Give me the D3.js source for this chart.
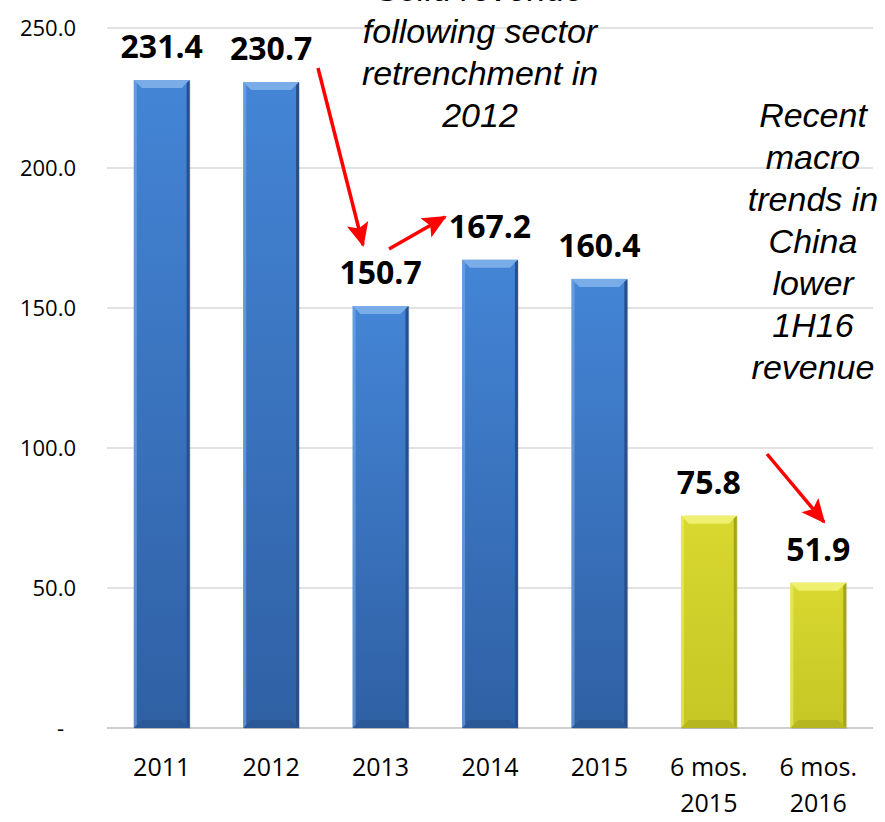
<!DOCTYPE html>
<html>
<head>
<meta charset="UTF-8">
<title>Revenue chart</title>
<script src="https://cdn.jsdelivr.net/npm/d3@7"></script>
<style>
  body { margin: 0; background: #fff; }
  svg { display: block; }
</style>
</head>
<body>
<svg id="chart"></svg>
<script>
// chart data
const categories = ["2011", "2012", "2013", "2014", "2015", "6 mos. 2015", "6 mos. 2016"];
const values = [231.4, 230.7, 150.7, 167.2, 160.4, 75.8, 51.9];
const isHalfYear = [false, false, false, false, false, true, true];
const yTicks = [0, 50, 100, 150, 200, 250];
const noteLeft = ["Solid revenue", "following sector", "retrenchment in", "2012"];
const noteRight = ["Recent", "macro", "trends in", "China", "lower", "1H16", "revenue"];

const width = 885, height = 822;
const svg = d3.select("#chart").attr("width", width).attr("height", height);

const x = d3.scaleBand().domain(categories).range([107, 873])
    .paddingInner(0.49).paddingOuter(0.245);
const y = d3.scaleLinear().domain([0, 250]).range([728, 28]);

// gradients for the bevelled bars
const defs = svg.append("defs");
const palettes = {
  blue:   {top: "#4485d6", bottom: "#2f60a4", light: "#7aace8", dark: "#284f8a"},
  yellow: {top: "#d8d830", bottom: "#c6c625", light: "#efef70", dark: "#a5a51c"}
};
Object.entries(palettes).forEach(([k, p]) => {
  const g = defs.append("linearGradient").attr("id", "body-" + k)
      .attr("x1", 0).attr("y1", 0).attr("x2", 0).attr("y2", 1);
  g.append("stop").attr("offset", "0%").attr("stop-color", p.top);
  g.append("stop").attr("offset", "100%").attr("stop-color", p.bottom);
});

// gridlines
svg.append("g")
  .selectAll("line")
  .data(yTicks)
  .join("line")
    .attr("x1", 107).attr("x2", 873)
    .attr("y1", d => y(d)).attr("y2", d => y(d))
    .attr("stroke", d => d === 0 ? "#cfcfcf" : "#d9d9d9")
    .attr("stroke-width", d => d === 0 ? 2 : 1.5);

// y axis labels
const yAxis = svg.append("g")
  .attr("transform", "translate(76,0)")
  .call(d3.axisLeft(y).tickValues(yTicks).tickSize(0).tickPadding(0)
        .tickFormat(d => d === 0 ? "-" : d3.format(".1f")(d)));
yAxis.select(".domain").remove();
yAxis.selectAll("text")
  .attr("font-family", "Open Sans, sans-serif")
  .attr("font-size", 22)
  .attr("fill", "#000")
  .attr("dy", "0.35em")
  .attr("x", d => d === 0 ? -12 : 0);

// bars
const bar = svg.append("g")
  .selectAll("g")
  .data(categories.map((c, i) => ({c, v: values[i], half: isHalfYear[i]})))
  .join("g")
    .attr("transform", d => `translate(${x(d.c)},${y(d.v)})`);

const bw = x.bandwidth();
const bev = 8;

bar.append("rect")
  .attr("x", 1).attr("y", 1)
  .attr("width", bw).attr("height", d => y(0) - y(d.v))
  .attr("fill", "#000").attr("opacity", 0.12);

bar.append("rect")
  .attr("width", bw).attr("height", d => y(0) - y(d.v))
  .attr("fill", d => `url(#body-${d.half ? "yellow" : "blue"})`);

// top bevel
bar.append("polygon")
  .attr("points", `0,0 ${bw},0 ${bw - bev},${bev} ${bev},${bev}`)
  .attr("fill", d => palettes[d.half ? "yellow" : "blue"].light);
// left bevel
bar.append("polygon")
  .attr("points", d => { const h = y(0) - y(d.v); return `0,0 3,3 3,${h - 3} 0,${h}`; })
  .attr("fill", d => palettes[d.half ? "yellow" : "blue"].light).attr("opacity", 0.6);
// right bevel
bar.append("polygon")
  .attr("points", d => { const h = y(0) - y(d.v); return `${bw},0 ${bw - 3},3 ${bw - 3},${h - 3} ${bw},${h}`; })
  .attr("fill", d => palettes[d.half ? "yellow" : "blue"].dark);
// bottom bevel
bar.append("polygon")
  .attr("points", d => { const h = y(0) - y(d.v); return `0,${h} ${bev},${h - bev} ${bw - bev},${h - bev} ${bw},${h}`; })
  .attr("fill", d => palettes[d.half ? "yellow" : "blue"].dark).attr("opacity", 0.5);

// value labels
bar.append("text")
  .attr("x", bw / 2).attr("y", -22)
  .attr("text-anchor", "middle")
  .attr("font-family", "Open Sans, sans-serif")
  .attr("font-weight", "bold")
  .attr("font-size", 32)
  .attr("fill", "#000")
  .text(d => d3.format(".1f")(d.v));

// category labels
const xl = svg.append("g")
  .selectAll("text")
  .data(categories)
  .join("text")
    .attr("x", d => x(d) + bw / 2)
    .attr("y", 776)
    .attr("text-anchor", "middle")
    .attr("font-family", "Open Sans, sans-serif")
    .attr("font-size", 25)
    .attr("fill", "#000");
xl.each(function(d) {
  const parts = d.startsWith("6 mos.") ? ["6 mos.", d.slice(7)] : [d];
  d3.select(this).selectAll("tspan").data(parts).join("tspan")
    .attr("x", x(d) + bw / 2)
    .attr("dy", (p, i) => i === 0 ? 0 : 36)
    .text(p => p);
});

// annotations
function note(lines, cx, y0) {
  svg.append("text")
    .attr("text-anchor", "middle")
    .attr("font-family", "Liberation Sans, Arial, sans-serif")
    .attr("font-style", "italic")
    .attr("font-size", 34)
    .attr("fill", "#000")
    .selectAll("tspan").data(lines).join("tspan")
      .attr("x", cx).attr("y", (l, i) => y0 + i * 42)
      .text(l => l);
}
note(noteLeft, 480, 1);
note(noteRight, 813, 127);

// red arrows
defs.append("marker")
  .attr("id", "head")
  .attr("markerUnits", "userSpaceOnUse")
  .attr("viewBox", "0 0 24 24")
  .attr("refX", 22).attr("refY", 12)
  .attr("markerWidth", 24).attr("markerHeight", 24)
  .attr("orient", "auto")
  .append("path")
    .attr("d", "M0,1 L24,12 L0,23 L5,12 Z")
    .attr("fill", "#ff0000");

const arrows = [
  [318, 68, 363, 245],
  [389, 249, 445, 217],
  [767, 454, 824, 522]
];
svg.append("g")
  .selectAll("line")
  .data(arrows)
  .join("line")
    .attr("x1", d => d[0]).attr("y1", d => d[1])
    .attr("x2", d => d[2]).attr("y2", d => d[3])
    .attr("stroke", "#ff0000")
    .attr("stroke-width", 3.5)
    .attr("marker-end", "url(#head)");
</script>
</body>
</html>
